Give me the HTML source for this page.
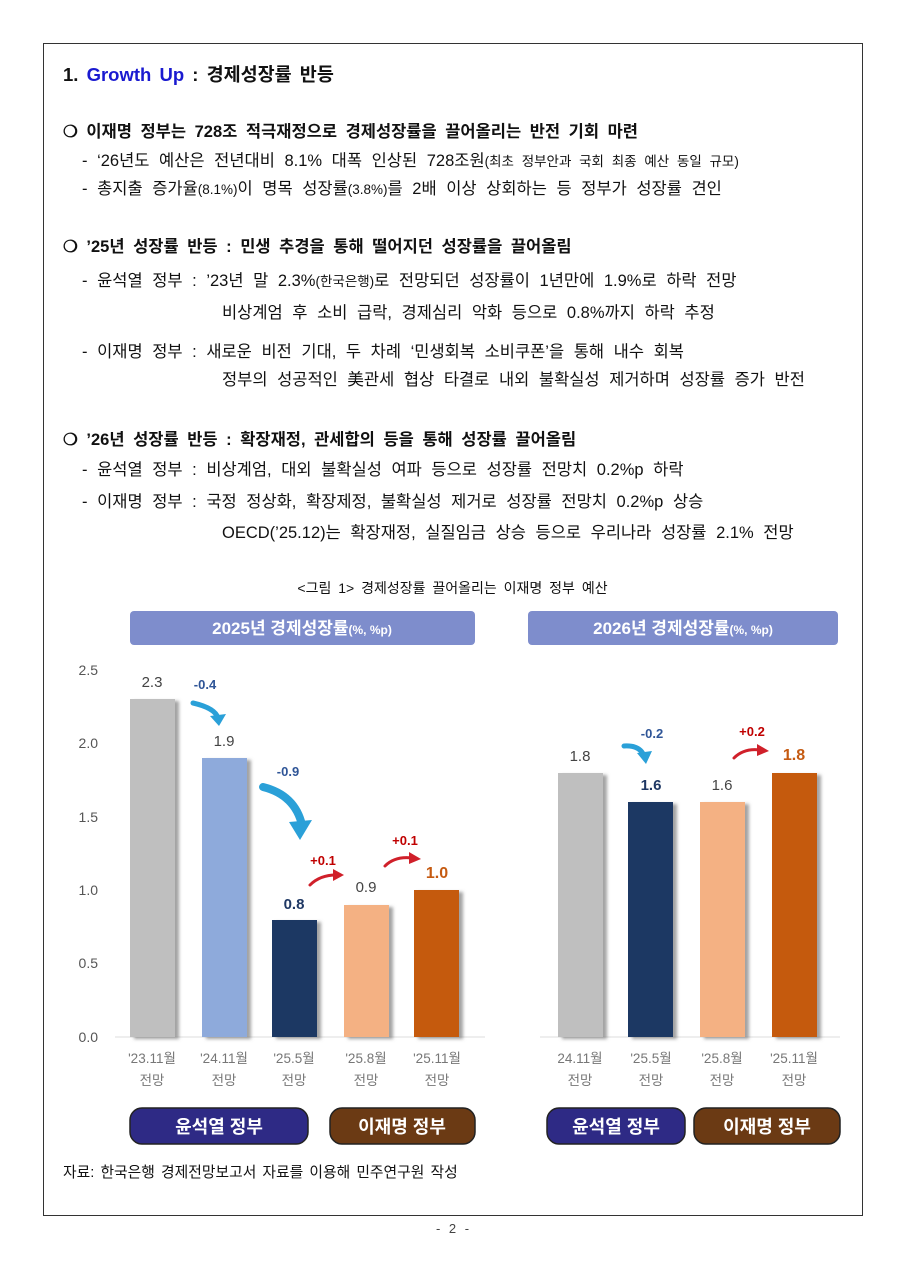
<!DOCTYPE html>
<html><head><meta charset="utf-8"><style>
body{margin:0;background:#fff;width:905px;height:1280px;position:relative;font-family:"Liberation Sans","Noto Sans CJK KR",sans-serif;color:#111;overflow:hidden}
.t{position:absolute;white-space:nowrap;font-size:16.5px;line-height:20px;word-spacing:5px}
.b{font-weight:bold}
.s{font-size:13.5px;word-spacing:4px}
</style></head><body>
<div style="position:absolute;left:43px;top:43px;width:818px;height:1171px;border:1px solid #333"></div>
<div class="t b" style="left:63px;top:65px;font-size:18.5px;word-spacing:3px">1. <span style="color:#1a1ad0">Growth Up</span> : 경제성장률 반등</div>
<div class="t b" style="left:63px;top:122px;word-spacing:4px">❍ 이재명 정부는 728조 적극재정으로 경제성장률을 끌어올리는 반전 기회 마련</div>
<div class="t" style="left:82px;top:151px">- ‘26년도 예산은 전년대비 8.1% 대폭 인상된 728조원<span class="s">(최초 정부안과 국회 최종 예산 동일 규모)</span></div>
<div class="t" style="left:82px;top:179px">- 총지출 증가율<span class="s">(8.1%)</span>이 명목 성장률<span class="s">(3.8%)</span>를 2배 이상 상회하는 등 정부가 성장률 견인</div>
<div class="t b" style="left:63px;top:237px;word-spacing:4px">❍ ’25년 성장률 반등 : 민생 추경을 통해 떨어지던 성장률을 끌어올림</div>
<div class="t" style="left:82px;top:271px">- 윤석열 정부 : ’23년 말 2.3%<span class="s">(한국은행)</span>로 전망되던 성장률이 1년만에 1.9%로 하락 전망</div>
<div class="t" style="left:222px;top:303px">비상계엄 후 소비 급락, 경제심리 악화 등으로 0.8%까지 하락 추정</div>
<div class="t" style="left:82px;top:342px">- 이재명 정부 : 새로운 비전 기대, 두 차례 ‘민생회복 소비쿠폰’을 통해 내수 회복</div>
<div class="t" style="left:222px;top:370px">정부의 성공적인 美관세 협상 타결로 내외 불확실성 제거하며 성장률 증가 반전</div>
<div class="t b" style="left:63px;top:430px;word-spacing:4px">❍ ’26년 성장률 반등 : 확장재정, 관세합의 등을 통해 성장률 끌어올림</div>
<div class="t" style="left:82px;top:460px">- 윤석열 정부 : 비상계엄, 대외 불확실성 여파 등으로 성장률 전망치 0.2%p 하락</div>
<div class="t" style="left:82px;top:492px">- 이재명 정부 : 국정 정상화, 확장제정, 불확실성 제거로 성장률 전망치 0.2%p 상승</div>
<div class="t" style="left:222px;top:523px">OECD(’25.12)는 확장재정, 실질임금 상승 등으로 우리나라 성장률 2.1% 전망</div>
<div class="t" style="left:0;width:905px;text-align:center;top:578px;font-size:14px;word-spacing:3px">&lt;그림 1&gt; 경제성장률 끌어올리는 이재명 정부 예산</div>
<svg style="position:absolute;left:0;top:0" width="905" height="1280" font-family="Liberation Sans,Noto Sans CJK KR,sans-serif">
<defs><filter id="sh"><feDropShadow dx="4" dy="2" stdDeviation="1.5" flood-color="#666" flood-opacity="0.6"/></filter></defs>
<rect x="130" y="611" width="345" height="34" rx="4" fill="#7e8dcc"/>
<text x="302" y="634" text-anchor="middle" fill="#fff" font-weight="bold" font-size="17">2025년 경제성장률<tspan font-size="12">(%, %p)</tspan></text>
<rect x="528" y="611" width="310" height="34" rx="4" fill="#7e8dcc"/>
<text x="683" y="634" text-anchor="middle" fill="#fff" font-weight="bold" font-size="17">2026년 경제성장률<tspan font-size="12">(%, %p)</tspan></text>
<g font-size="14" fill="#555" text-anchor="end">
<text x="98" y="675">2.5</text><text x="98" y="748">2.0</text><text x="98" y="822">1.5</text><text x="98" y="895">1.0</text><text x="98" y="968">0.5</text><text x="98" y="1042">0.0</text></g>
<line x1="115" y1="1037" x2="485" y2="1037" stroke="#ddd"/>
<line x1="540" y1="1037" x2="840" y2="1037" stroke="#ddd"/>
<g filter="url(#sh)">
<rect x="130" y="699" width="45" height="338" fill="#bfbfbf"/>
<rect x="202" y="758" width="45" height="279" fill="#8eaadb"/>
<rect x="272" y="920" width="45" height="117" fill="#1f3864"/>
<rect x="344" y="905" width="45" height="132" fill="#f4b183"/>
<rect x="414" y="890" width="45" height="147" fill="#c55a11"/>
<rect x="558" y="773" width="45" height="264" fill="#bfbfbf"/>
<rect x="628" y="802" width="45" height="235" fill="#1f3864"/>
<rect x="700" y="802" width="45" height="235" fill="#f4b183"/>
<rect x="772" y="773" width="45" height="264" fill="#c55a11"/>
</g>
<g font-size="15" text-anchor="middle" fill="#444">
<text x="152" y="687">2.3</text><text x="224" y="746">1.9</text>
<text x="294" y="909" font-weight="bold" fill="#1f3864">0.8</text>
<text x="366" y="892">0.9</text>
<text x="437" y="878" font-weight="bold" fill="#c55a11" font-size="16">1.0</text>
<text x="580" y="761">1.8</text>
<text x="651" y="790" font-weight="bold" fill="#1f3864">1.6</text>
<text x="722" y="790">1.6</text>
<text x="794" y="760" font-weight="bold" fill="#c55a11" font-size="16">1.8</text>
</g>
<g font-size="13" font-weight="bold" text-anchor="middle">
<text x="205" y="689" fill="#2f5597">-0.4</text>
<text x="288" y="776" fill="#2f5597">-0.9</text>
<text x="323" y="865" fill="#c00000">+0.1</text>
<text x="405" y="845" fill="#c00000">+0.1</text>
<text x="652" y="738" fill="#2f5597">-0.2</text>
<text x="752" y="736" fill="#c00000">+0.2</text>
</g>
<g fill="none" stroke-linecap="round">
<path d="M193 703 Q215 708 218 718" stroke="#2aa0d8" stroke-width="5"/>
<path d="M210 716 L219 726 L226 714Z" fill="#2aa0d8"/>
<path d="M263 787 Q295 795 302 825" stroke="#2aa0d8" stroke-width="8"/>
<path d="M289 822 L300 840 L312 820Z" fill="#2aa0d8"/>
<path d="M310 885 Q320 875 336 875" stroke="#d0202a" stroke-width="3"/>
<path d="M333 869 L344 875 L333 881Z" fill="#d0202a"/>
<path d="M385 866 Q395 856 412 858" stroke="#d0202a" stroke-width="3"/>
<path d="M409 852 L421 859 L409 864Z" fill="#d0202a"/>
<path d="M624 746 Q640 745 644 756" stroke="#2aa0d8" stroke-width="5"/>
<path d="M637 753 L646 764 L652 751Z" fill="#2aa0d8"/>
<path d="M734 758 Q744 748 760 750" stroke="#d0202a" stroke-width="3"/>
<path d="M757 744 L769 751 L757 756Z" fill="#d0202a"/>
</g>
<g font-size="13.5" fill="#777" text-anchor="middle">
<text x="152" y="1063">'23.11월</text><text x="152" y="1085">전망</text>
<text x="224" y="1063">'24.11월</text><text x="224" y="1085">전망</text>
<text x="294" y="1063">'25.5월</text><text x="294" y="1085">전망</text>
<text x="366" y="1063">'25.8월</text><text x="366" y="1085">전망</text>
<text x="437" y="1063">'25.11월</text><text x="437" y="1085">전망</text>
<text x="580" y="1063">24.11월</text><text x="580" y="1085">전망</text>
<text x="651" y="1063">'25.5월</text><text x="651" y="1085">전망</text>
<text x="722" y="1063">'25.8월</text><text x="722" y="1085">전망</text>
<text x="794" y="1063">'25.11월</text><text x="794" y="1085">전망</text>
</g>
<g stroke="#222" stroke-width="1.5">
<rect x="130" y="1108" width="178" height="36" rx="12" fill="#2e2a85"/>
<rect x="330" y="1108" width="145" height="36" rx="12" fill="#6b3a14"/>
<rect x="547" y="1108" width="138" height="36" rx="12" fill="#2e2a85"/>
<rect x="694" y="1108" width="146" height="36" rx="12" fill="#6b3a14"/>
</g>
<g fill="#fff" font-size="18" font-weight="bold" text-anchor="middle">
<text x="219" y="1133">윤석열 정부</text><text x="402" y="1133">이재명 정부</text>
<text x="616" y="1133">윤석열 정부</text><text x="767" y="1133">이재명 정부</text>
</g>
</svg>
<div class="t" style="left:63px;top:1163px;font-size:14.8px;word-spacing:2px">자료: 한국은행 경제전망보고서 자료를 이용해 민주연구원 작성</div>
<div class="t" style="left:0;width:905px;text-align:center;top:1219px;font-size:13px;color:#444">- 2 -</div>
</body></html>
